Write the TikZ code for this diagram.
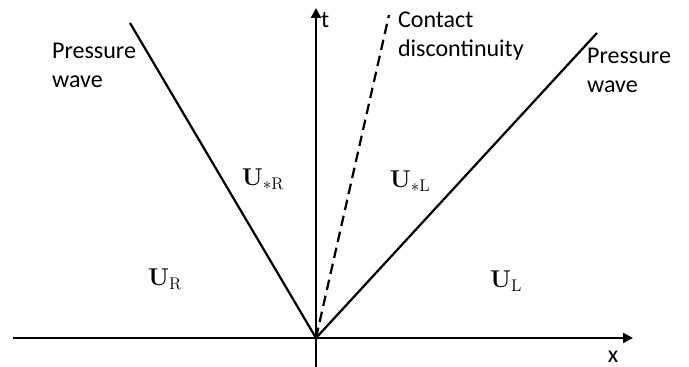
\documentclass[tikz,border=0pt]{standalone}
\usepackage[no-math]{fontspec}
\setmainfont{Carlito}
\usepackage{tikz}
\usetikzlibrary{arrows.meta}

\begin{document}
\begin{tikzpicture}[x=.03cm,y=-.03cm,line width=1.9pt,
    every node/.style={font=\fontsize{20.5}{25.6}\selectfont,inner sep=0pt},
    axis/.style={-{Triangle[length=8.5pt,width=8.5pt]}},
    state/.style={font=\fontsize{22}{26}\selectfont}]
    \useasboundingbox (0,0) rectangle (689,367);
    % axes
    \coordinate (O) at (316,338);
    \coordinate (xa) at (13,338);
    \coordinate (xb) at (633,338);
    \coordinate (ta) at (316,367);
    \coordinate (tb) at (316,8);
    \draw[axis] (xa) -- (xb);
    \draw[axis] (ta) -- (tb);
    \node[anchor=base] (xlab) at (613,362) {x};
    \node[anchor=base west] (tlab) at (320,28) {t};
    % waves
    \coordinate (wl) at (130,23);
    \coordinate (wr) at (597,33);
    \coordinate (cd) at (389,15);
    \draw (O) -- (wl);
    \draw (O) -- (wr);
    \draw[dash pattern=on 9pt off 5pt] (O) -- (cd);
    \node[anchor=base west,align=left] (pl) at (51,88) {Pressure\\wave};
    \node[anchor=base west,align=left] (pr) at (586,93) {Pressure\\wave};
    \node[anchor=base west,align=left] (cl) at (397,57) {Contact\\discontinuity};
    % states
    \node[state] (usr) at (263,179) {$\mathbf{U}_{*\mathrm{R}}$};
    \node[state] (usl) at (410,181) {$\mathbf{U}_{*\mathrm{L}}$};
    \node[state] (ur) at (165,279) {$\mathbf{U}_{\mathrm{R}}$};
    \node[state] (ul) at (506,281) {$\mathbf{U}_{\mathrm{L}}$};
\end{tikzpicture}
\end{document}
